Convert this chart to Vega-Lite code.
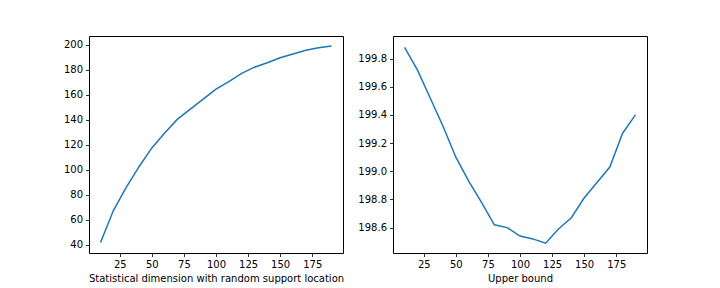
{
  "$schema": "https://vega.github.io/schema/vega-lite/v6.json",
  "background": "white",
  "padding": {"left": 62, "top": 35, "right": 5, "bottom": 5},
  "spacing": 12,
  "datasets": {
    "left": [
      {"x": 10, "y": 42}, {"x": 20, "y": 67.5}, {"x": 30, "y": 86}, {"x": 40, "y": 102.5},
      {"x": 50, "y": 117.5}, {"x": 60, "y": 129.5}, {"x": 70, "y": 140.5}, {"x": 80, "y": 148.5},
      {"x": 90, "y": 156.5}, {"x": 100, "y": 164.5}, {"x": 110, "y": 170.5}, {"x": 120, "y": 177},
      {"x": 130, "y": 182}, {"x": 140, "y": 185.5}, {"x": 150, "y": 189.5}, {"x": 160, "y": 192.5},
      {"x": 170, "y": 195.5}, {"x": 180, "y": 197.5}, {"x": 190, "y": 199}
    ],
    "right": [
      {"x": 10, "y": 199.88}, {"x": 20, "y": 199.72}, {"x": 30, "y": 199.52}, {"x": 40, "y": 199.32},
      {"x": 50, "y": 199.1}, {"x": 60, "y": 198.93}, {"x": 70, "y": 198.78}, {"x": 80, "y": 198.62},
      {"x": 90, "y": 198.6}, {"x": 100, "y": 198.54}, {"x": 110, "y": 198.52}, {"x": 120, "y": 198.49},
      {"x": 130, "y": 198.59}, {"x": 140, "y": 198.67}, {"x": 150, "y": 198.81}, {"x": 160, "y": 198.92},
      {"x": 170, "y": 199.03}, {"x": 180, "y": 199.27}, {"x": 190, "y": 199.4}
    ]
  },
  "hconcat": [
    {
      "width": 254,
      "height": 217,
      "data": {"name": "left"},
      "mark": {"type": "line", "color": "#1f77b4", "strokeWidth": 1.5},
      "encoding": {
        "x": {"field": "x", "type": "quantitative", "title": "Statistical dimension with random support location",
              "scale": {"domain": [1, 199], "nice": false, "zero": false},
              "axis": {"values": [25, 50, 75, 100, 125, 150, 175]}},
        "y": {"field": "y", "type": "quantitative", "title": null,
              "scale": {"domain": [33.6, 206.9], "nice": false, "zero": false},
              "axis": {"values": [40, 60, 80, 100, 120, 140, 160, 180, 200]}}
      }
    },
    {
      "width": 254,
      "height": 217,
      "data": {"name": "right"},
      "mark": {"type": "line", "color": "#1f77b4", "strokeWidth": 1.5},
      "encoding": {
        "x": {"field": "x", "type": "quantitative", "title": "Upper bound",
              "scale": {"domain": [1, 199], "nice": false, "zero": false},
              "axis": {"values": [25, 50, 75, 100, 125, 150, 175]}},
        "y": {"field": "y", "type": "quantitative", "title": null,
              "scale": {"domain": [198.42, 199.96], "nice": false, "zero": false},
              "axis": {"values": [198.6, 198.8, 199.0, 199.2, 199.4, 199.6, 199.8], "format": ".1f"}}
      }
    }
  ],
  "config": {
    "view": {"stroke": "black", "strokeWidth": 1},
    "axis": {
      "domain": false,
      "grid": false,
      "ticks": true,
      "tickColor": "black",
      "tickSize": 3.5,
      "tickWidth": 0.8,
      "labelPadding": 3,
      "labelFont": "DejaVu Sans",
      "labelFontSize": 10,
      "labelColor": "black",
      "titleFont": "DejaVu Sans",
      "titleFontSize": 10,
      "titleFontWeight": "normal",
      "titleColor": "black",
      "titlePadding": 4
    }
  }
}
